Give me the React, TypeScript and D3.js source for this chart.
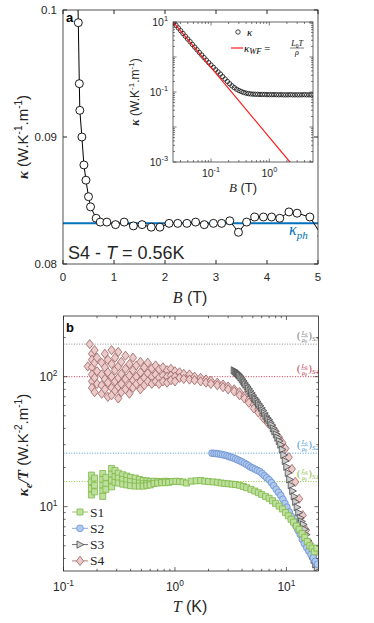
import React, { useEffect, useRef } from "react";
import * as d3 from "d3";

// ---- panel a : kappa(B) of S4 at T = 0.56 K
const fieldB = [0.27, 0.3, 0.32, 0.33, 0.37, 0.41, 0.45, 0.5, 0.54, 0.65, 0.73, 0.86, 1.03, 1.2, 1.38, 1.55, 1.73, 1.9, 2.08, 2.25, 2.43, 2.6, 2.77, 2.95, 3.11, 3.27, 3.44, 3.6, 3.76, 3.93, 4.09, 4.25, 4.43, 4.59, 4.84, 5.08];
const kappaB = [0.105, 0.099, 0.0942, 0.0921, 0.09, 0.0878, 0.0866, 0.0853, 0.0845, 0.0836, 0.0833, 0.0833, 0.0831, 0.0833, 0.083, 0.0831, 0.0829, 0.0829, 0.0832, 0.0832, 0.0832, 0.0833, 0.0831, 0.0832, 0.0832, 0.0834, 0.0825, 0.0833, 0.0837, 0.0837, 0.0837, 0.0836, 0.0841, 0.084, 0.0837, 0.0822];
const kappaPh = 0.0832;
const bTicks = [0, 1, 2, 3, 4, 5];
const kTicks = [0.08, 0.09, 0.1];

// ---- inset : log-log kappa(B) and Wiedemann-Franz
const insetB = [0.0229, 0.0251, 0.0275, 0.0302, 0.0331, 0.0363, 0.0398, 0.0437, 0.0479, 0.0525, 0.0575, 0.0631, 0.0692, 0.0759, 0.0832, 0.0912, 0.1, 0.11, 0.12, 0.132, 0.145, 0.158, 0.174, 0.191, 0.209, 0.229, 0.251, 0.275, 0.302, 0.331, 0.363, 0.398, 0.437, 0.479, 0.525, 0.575, 0.631, 0.692, 0.759, 0.832, 0.912, 1.0, 1.1, 1.2, 1.32, 1.45, 1.58, 1.74, 1.91, 2.09, 2.29, 2.51, 2.75, 3.02, 3.31, 3.63, 3.98, 4.37, 4.79, 5.25];
const insetK = [9.72, 8.1, 6.75, 5.63, 4.69, 3.92, 3.27, 2.74, 2.29, 1.92, 1.61, 1.35, 1.14, 0.962, 0.814, 0.691, 0.589, 0.504, 0.433, 0.374, 0.325, 0.275, 0.235, 0.2, 0.172, 0.15, 0.133, 0.12, 0.11, 0.103, 0.097, 0.093, 0.09, 0.088, 0.087, 0.086, 0.086, 0.085, 0.085, 0.085, 0.084, 0.084, 0.084, 0.084, 0.084, 0.083, 0.084, 0.083, 0.083, 0.083, 0.084, 0.083, 0.083, 0.083, 0.083, 0.083, 0.084, 0.083, 0.083, 0.083];
const wfB = [0.0225, 0.1, 1, 2.6];
const wfK = [10, 0.506, 0.00506, 0.00075];

// ---- panel b : kappa_e / T vs T
const s1: [number, number][] = [[0.178, 17.5], [0.178, 15.5], [0.178, 13.8], [0.178, 12.3], [0.19, 16.6], [0.19, 14.6], [0.19, 13.0], [0.225, 18.0], [0.225, 16.2], [0.225, 14.6], [0.225, 13.2], [0.225, 12.0], [0.24, 16.8], [0.24, 15.0], [0.24, 13.6], [0.27, 19.7], [0.27, 17.8], [0.27, 16.0], [0.27, 14.2], [0.29, 19.0], [0.29, 17.0], [0.29, 15.4], [0.31, 18.1], [0.31, 16.6], [0.31, 15.2], [0.34, 17.6], [0.34, 16.2], [0.34, 14.9], [0.37, 17.2], [0.37, 15.9], [0.37, 14.7], [0.4, 16.8], [0.4, 15.6], [0.4, 14.5], [0.44, 16.6], [0.44, 15.4], [0.44, 14.4], [0.48, 16.2], [0.48, 15.2], [0.48, 14.4], [0.52, 15.9], [0.52, 15.0], [0.52, 14.4], [0.56, 15.8], [0.56, 15.1], [0.56, 14.6], [0.6, 15.6], [0.6, 15.0], [0.6, 14.7], [0.65, 15.7], [0.65, 15.1], [0.7, 15.6], [0.7, 15.2], [0.76, 15.6], [0.76, 15.3], [0.82, 15.7], [0.82, 15.3], [0.88, 15.6], [0.88, 15.4], [0.95, 15.6], [1.02, 15.7], [1.1, 15.6], [1.18, 15.5], [1.27, 15.2], [1.4, 15.7], [1.55, 15.8], [1.7, 15.9], [1.85, 15.7], [2.0, 15.6], [2.2, 15.5], [2.4, 15.4], [2.6, 15.2], [2.8, 15.1], [3.0, 15.0], [3.25, 14.9], [3.5, 14.8], [3.8, 14.6], [4.1, 14.3], [4.4, 14.0], [4.8, 13.6], [5.2, 13.2], [5.6, 12.8], [6.0, 12.4], [6.5, 12.0], [7.0, 11.6], [7.5, 11.1], [8.0, 10.6], [8.6, 10.1], [9.2, 9.6], [9.8, 9.0], [10.4, 8.5], [11.0, 8.0], [11.6, 7.6], [12.3, 7.1], [13.0, 6.7], [13.8, 6.2], [14.6, 5.8], [15.4, 5.4], [16.2, 5.0], [17.0, 4.8], [17.8, 4.5], [18.7, 4.8]];
const s2: [number, number][] = [[2.15, 25.8], [2.25, 25.7], [2.35, 25.6], [2.45, 25.5], [2.56, 25.3], [2.68, 25.1], [2.8, 24.9], [2.93, 24.6], [3.06, 24.3], [3.2, 24.0], [3.35, 23.7], [3.5, 23.3], [3.66, 22.9], [3.83, 22.5], [4.0, 22.1], [4.2, 21.6], [4.4, 21.1], [4.6, 20.6], [4.8, 20.1], [5.0, 19.8], [5.25, 19.4], [5.5, 19.0], [5.78, 18.6], [6.05, 18.0], [6.35, 17.3], [6.65, 16.7], [7.0, 16.1], [7.35, 15.3], [7.7, 14.5], [8.1, 13.6], [8.5, 12.9], [8.9, 12.2], [9.3, 11.4], [9.7, 10.6], [10.1, 9.9], [10.6, 9.1], [11.1, 8.4], [11.6, 7.8], [12.1, 7.2], [12.7, 6.6], [13.3, 6.1], [13.9, 5.6], [14.5, 5.2], [15.2, 4.85], [15.9, 4.55], [16.6, 4.3], [17.4, 4.05], [18.2, 3.8], [19.0, 3.6]];
const s3: [number, number][] = [[3.4, 112], [3.48, 110], [3.56, 108], [3.64, 106], [3.72, 104], [3.8, 102], [3.9, 99], [4.0, 96], [4.1, 93], [4.2, 90], [4.32, 87], [4.45, 84], [4.58, 81], [4.72, 78], [4.86, 75], [5.0, 72], [5.15, 69], [5.3, 67], [5.46, 64.5], [5.62, 62], [5.8, 60], [5.98, 57.5], [6.16, 55], [6.35, 52.5], [6.55, 50], [6.75, 48], [6.96, 46.5], [7.18, 44.5], [7.4, 42.5], [7.63, 40], [7.87, 38], [8.12, 36], [8.37, 34], [8.63, 32], [8.9, 30], [9.18, 27.5], [9.47, 25], [9.76, 22.5], [10.07, 20.3], [10.38, 18.2], [10.7, 16.2], [11.04, 14.6], [11.38, 13.2], [11.74, 12.0], [12.1, 10.9], [12.5, 9.9], [12.9, 9.0], [13.3, 8.2], [13.7, 7.7], [14.2, 7.3], [14.6, 6.7], [15.1, 6.1], [15.6, 5.5], [16.1, 5.0], [16.6, 4.6], [17.1, 4.2], [17.7, 3.9], [18.3, 3.6], [18.9, 3.4]];
const s4: [number, number][] = [[0.165, 120], [0.172, 178], [0.18, 150], [0.18, 135], [0.18, 118], [0.18, 104], [0.18, 92], [0.18, 82], [0.19, 160], [0.19, 128], [0.19, 98], [0.19, 76], [0.2, 140], [0.2, 110], [0.2, 88], [0.22, 128], [0.22, 104], [0.22, 86], [0.22, 74], [0.235, 150], [0.235, 118], [0.235, 96], [0.235, 80], [0.25, 135], [0.25, 108], [0.25, 90], [0.25, 70], [0.27, 160], [0.27, 125], [0.27, 100], [0.27, 82], [0.27, 72], [0.29, 140], [0.29, 112], [0.29, 92], [0.29, 78], [0.31, 155], [0.31, 120], [0.31, 98], [0.31, 84], [0.31, 68], [0.33, 130], [0.33, 105], [0.33, 88], [0.33, 76], [0.36, 145], [0.36, 115], [0.36, 96], [0.36, 80], [0.39, 125], [0.39, 102], [0.39, 86], [0.39, 74], [0.42, 140], [0.42, 112], [0.42, 94], [0.42, 82], [0.45, 122], [0.45, 100], [0.45, 88], [0.49, 130], [0.49, 108], [0.49, 92], [0.49, 80], [0.53, 118], [0.53, 98], [0.53, 86], [0.57, 128], [0.57, 106], [0.57, 92], [0.62, 116], [0.62, 100], [0.62, 88], [0.67, 122], [0.67, 104], [0.67, 92], [0.72, 114], [0.72, 98], [0.72, 88], [0.78, 118], [0.78, 102], [0.78, 92], [0.85, 112], [0.85, 100], [0.85, 90], [0.92, 115], [0.92, 102], [0.92, 94], [1.0, 110], [1.0, 100], [1.0, 92], [1.1, 108], [1.1, 98], [1.2, 105], [1.2, 96], [1.35, 104], [1.35, 95], [1.5, 100], [1.5, 94], [1.7, 98], [1.7, 92], [1.9, 95], [1.9, 90], [2.1, 93], [2.1, 88], [2.4, 90], [2.4, 86], [2.7, 87], [2.7, 83], [3.0, 84], [3.0, 80], [3.4, 80], [3.4, 77], [3.8, 76], [3.8, 72], [4.2, 71], [4.2, 68], [4.6, 66], [4.6, 63], [5.1, 61], [5.1, 57], [5.6, 56], [5.6, 53], [6.2, 51], [6.2, 48], [6.8, 47], [6.8, 44], [7.4, 42], [8.0, 38], [8.6, 34], [9.2, 31], [9.8, 28], [10.5, 24], [11.2, 19.5], [12, 15.5], [13, 11.5], [14, 8.6], [15, 6.6], [16.2, 5.2], [17.5, 4.2], [19, 3.4]];
const seriesNames = ["S1", "S2", "S3", "S4"];
// L0/rho0 reference levels (S1..S4)
const lorenzLevels = [15.6, 25.8, 178, 100];

const W = 374;
const H = 623;
const sans = "'Liberation Sans', Arial, Helvetica, sans-serif";
const serif = "'Liberation Serif', 'DejaVu Serif', 'Times New Roman', serif";
const ink = "#262626";

const shapes: Record<string, string> = {
  square: "M-3,-3H3V3H-3Z",
  circle: d3.symbol(d3.symbolCircle, 36)() as string,
  tri: "M-3,-3.6L3.8,0L-3,3.6Z",
  diamond: "M0,-4.6L3.6,0L0,4.6L-3.6,0Z",
};
const styles = [
  { shape: "square", fill: "#bfe09c", stroke: "#7db748", line: "#8cc63f", label: "#86bb3a" },
  { shape: "circle", fill: "#b0c9ee", stroke: "#6a90d0", line: "#4a9fd8", label: "#3b8fd0" },
  { shape: "tri", fill: "#cfcfcf", stroke: "#484848", line: "#8a8a8a", label: "#777777" },
  { shape: "diamond", fill: "#ebcaca", stroke: "#9c5e5e", line: "#c8324a", label: "#c0304a" },
];

function powLabel(g: any, x: number, y: number, exp: number, anchor: string, size: number) {
  const t = g.append("text").attr("x", x).attr("y", y).attr("text-anchor", anchor)
    .attr("fill", ink).style("font-family", sans).style("font-size", size + "px");
  t.append("tspan").text("10");
  t.append("tspan").attr("dy", -size * 0.45).style("font-size", size * 0.7 + "px").text(String(exp));
  return t;
}

function logTicks(lo: number, hi: number) {
  const out: { v: number; major: boolean }[] = [];
  for (let e = Math.floor(Math.log10(lo)); e <= Math.ceil(Math.log10(hi)); e++) {
    for (let m = 1; m < 10; m++) {
      const v = m * Math.pow(10, e);
      if (v >= lo * 0.999 && v <= hi * 1.001) out.push({ v, major: m === 1 });
    }
  }
  return out;
}

function drawPanelA(svg: any) {
  const L = 63, R = 318, T = 10, B = 264;
  const x = d3.scaleLinear().domain([0, 5]).range([L, R]);
  const y = d3.scaleLinear().domain([0.08, 0.1]).range([B, T]);
  svg.append("clipPath").attr("id", "clipA").append("rect").attr("x", L).attr("y", T).attr("width", R - L).attr("height", B - T);
  const g = svg.append("g");
  const plot = g.append("g").attr("clip-path", "url(#clipA)");

  plot.append("line").attr("x1", L).attr("x2", R).attr("y1", y(kappaPh)).attr("y2", y(kappaPh))
    .attr("stroke", "#0072BD").attr("stroke-width", 2);
  const pts = fieldB.map((b, i) => [b, kappaB[i]] as [number, number]);
  plot.append("path").attr("d", d3.line().x((d) => x(d[0])).y((d) => y(d[1]))(pts))
    .attr("fill", "none").attr("stroke", "#000").attr("stroke-width", 1);
  plot.selectAll("circle.a").data(pts).enter().append("circle")
    .attr("cx", (d: any) => x(d[0])).attr("cy", (d: any) => y(d[1])).attr("r", 4)
    .attr("fill", "#fff").attr("stroke", "#000").attr("stroke-width", 0.9);

  // axes box + ticks
  g.append("rect").attr("x", L).attr("y", T).attr("width", R - L).attr("height", B - T)
    .attr("fill", "none").attr("stroke", ink).attr("stroke-width", 0.8);
  bTicks.forEach((b) => {
    g.append("line").attr("x1", x(b)).attr("x2", x(b)).attr("y1", B).attr("y2", B - 4).attr("stroke", ink);
    g.append("line").attr("x1", x(b)).attr("x2", x(b)).attr("y1", T).attr("y2", T + 4).attr("stroke", ink);
    g.append("text").attr("x", x(b)).attr("y", B + 17).attr("text-anchor", "middle").attr("fill", ink)
      .style("font-family", sans).style("font-size", "11.5px").text(String(b));
  });
  kTicks.forEach((k) => {
    g.append("line").attr("x1", L).attr("x2", L + 4).attr("y1", y(k)).attr("y2", y(k)).attr("stroke", ink);
    g.append("line").attr("x1", R).attr("x2", R - 4).attr("y1", y(k)).attr("y2", y(k)).attr("stroke", ink);
    g.append("text").attr("x", L - 6).attr("y", y(k) + 4).attr("text-anchor", "end").attr("fill", ink)
      .style("font-family", sans).style("font-size", "11.5px").text(String(k));
  });

  g.append("text").attr("x", 66).attr("y", 22).style("font-family", sans).style("font-weight", "bold")
    .style("font-size", "13px").text("a");
  const s = g.append("text").attr("x", 68).attr("y", 259).attr("fill", ink).style("font-family", sans).style("font-size", "18px");
  s.append("tspan").text("S4 - ");
  s.append("tspan").style("font-style", "italic").text("T");
  s.append("tspan").text(" = 0.56K");
  const kp = g.append("text").attr("x", 289).attr("y", 235).attr("fill", "#0072BD")
    .style("font-family", serif).style("font-style", "italic").style("font-size", "16px");
  kp.append("tspan").text("κ");
  kp.append("tspan").attr("dy", 4).style("font-size", "11px").text("ph");

  const xl = g.append("text").attr("x", 190).attr("y", 303).attr("text-anchor", "middle").attr("fill", ink)
    .style("font-family", sans).style("font-size", "16px");
  xl.append("tspan").style("font-family", serif).style("font-style", "italic").text("B");
  xl.append("tspan").text(" (T)");
  const yl = g.append("text").attr("transform", "translate(28,137) rotate(-90)").attr("text-anchor", "middle")
    .attr("fill", ink).style("font-family", sans).style("font-size", "15px");
  yl.append("tspan").style("font-family", serif).style("font-weight", "bold").style("font-style", "italic").text("κ");
  yl.append("tspan").text(" (W.K");
  yl.append("tspan").attr("dy", -6).style("font-size", "10px").text("-1");
  yl.append("tspan").attr("dy", 6).text(".m");
  yl.append("tspan").attr("dy", -6).style("font-size", "10px").text("-1");
  yl.append("tspan").attr("dy", 6).text(")");
}

function drawInset(svg: any) {
  const L = 173, R = 313, T = 22, B = 162;
  const x = d3.scaleLog().domain([0.0223, 5.6]).range([L, R]);
  const y = d3.scaleLog().domain([1e-3, 10]).range([B, T]);
  svg.append("clipPath").attr("id", "clipI").append("rect").attr("x", L).attr("y", T).attr("width", R - L).attr("height", B - T);
  const g = svg.append("g");
  g.append("rect").attr("x", L).attr("y", T).attr("width", R - L).attr("height", B - T).attr("fill", "#fff");
  const plot = g.append("g").attr("clip-path", "url(#clipI)");
  const circ = insetB.map((b, i) => [b, insetK[i]] as [number, number]);
  plot.selectAll("circle.i").data(circ).enter().append("circle")
    .attr("cx", (d: any) => x(d[0])).attr("cy", (d: any) => y(d[1])).attr("r", 2.2)
    .attr("fill", "none").attr("stroke", "#111").attr("stroke-width", 0.8);
  const wf = wfB.map((b, i) => [b, wfK[i]] as [number, number]);
  plot.append("path").attr("d", d3.line().x((d) => x(d[0])).y((d) => y(d[1]))(wf))
    .attr("fill", "none").attr("stroke", "#ff1a1a").attr("stroke-width", 1.2);

  g.append("rect").attr("x", L).attr("y", T).attr("width", R - L).attr("height", B - T)
    .attr("fill", "none").attr("stroke", ink).attr("stroke-width", 0.7);
  logTicks(0.0223, 5.6).forEach((t) => {
    const len = t.major ? 3.5 : 2;
    g.append("line").attr("x1", x(t.v)).attr("x2", x(t.v)).attr("y1", B).attr("y2", B - len).attr("stroke", ink).attr("stroke-width", 0.6);
    g.append("line").attr("x1", x(t.v)).attr("x2", x(t.v)).attr("y1", T).attr("y2", T + len).attr("stroke", ink).attr("stroke-width", 0.6);
  });
  logTicks(1e-3, 10).forEach((t) => {
    const len = t.major ? 3.5 : 2;
    g.append("line").attr("x1", L).attr("x2", L + len).attr("y1", y(t.v)).attr("y2", y(t.v)).attr("stroke", ink).attr("stroke-width", 0.6);
    g.append("line").attr("x1", R).attr("x2", R - len).attr("y1", y(t.v)).attr("y2", y(t.v)).attr("stroke", ink).attr("stroke-width", 0.6);
  });
  [0.1, 1].forEach((v) => powLabel(g, x(v), B + 15, Math.round(Math.log10(v)), "middle", 10.5));
  [1e-3, 0.1, 10].forEach((v) => powLabel(g, L - 5, y(v) + 4, Math.round(Math.log10(v)), "end", 10.5));

  const xl = g.append("text").attr("x", 243).attr("y", 192).attr("text-anchor", "middle").attr("fill", ink)
    .style("font-family", sans).style("font-size", "13px");
  xl.append("tspan").style("font-family", serif).style("font-style", "italic").text("B");
  xl.append("tspan").text(" (T)");
  const yl = g.append("text").attr("transform", "translate(139,92) rotate(-90)").attr("text-anchor", "middle")
    .attr("fill", ink).style("font-family", sans).style("font-size", "12px");
  yl.append("tspan").style("font-family", serif).style("font-weight", "bold").style("font-style", "italic").text("κ");
  yl.append("tspan").text(" (W.K");
  yl.append("tspan").attr("dy", -5).style("font-size", "8px").text("-1");
  yl.append("tspan").attr("dy", 5).text(".m");
  yl.append("tspan").attr("dy", -5).style("font-size", "8px").text("-1");
  yl.append("tspan").attr("dy", 5).text(")");

  // legend
  g.append("circle").attr("cx", 238).attr("cy", 32).attr("r", 2.2).attr("fill", "none").attr("stroke", "#111").attr("stroke-width", 0.8);
  g.append("text").attr("x", 247).attr("y", 35.5).style("font-family", serif).style("font-style", "italic")
    .style("font-size", "11px").text("κ");
  g.append("line").attr("x1", 231).attr("x2", 243).attr("y1", 48).attr("y2", 48).attr("stroke", "#ff1a1a").attr("stroke-width", 1.2);
  const lw = g.append("text").attr("x", 244).attr("y", 51.5).style("font-family", serif).style("font-style", "italic").style("font-size", "11px");
  lw.append("tspan").text("κ");
  lw.append("tspan").attr("dy", 2.5).style("font-size", "8.5px").text("WF");
  lw.append("tspan").attr("dy", -2.5).style("font-style", "normal").text(" = ");
  const num = g.append("text").attr("x", 297).attr("y", 46).attr("text-anchor", "middle").style("font-family", serif)
    .style("font-style", "italic").style("font-size", "8px");
  num.append("tspan").text("L");
  num.append("tspan").attr("dy", 1.5).style("font-size", "5.5px").style("font-style", "normal").text("0");
  num.append("tspan").attr("dy", -1.5).text("T");
  g.append("line").attr("x1", 290).attr("x2", 304).attr("y1", 48).attr("y2", 48).attr("stroke", "#000").attr("stroke-width", 0.5);
  g.append("text").attr("x", 297).attr("y", 55).attr("text-anchor", "middle").style("font-family", serif)
    .style("font-style", "italic").style("font-size", "8px").text("ρ");
}

function ratioLabel(g: any, x: number, y: number, sub: string, color: string) {
  const t = g.append("g").attr("transform", `translate(${x},${y})`).attr("fill", color)
    .style("font-family", serif).style("font-style", "italic");
  t.append("text").attr("x", 0).attr("y", 3).style("font-size", "10px").style("font-style", "normal").text("(");
  const n = t.append("text").attr("x", 7.5).attr("y", -1).attr("text-anchor", "middle").style("font-size", "6px");
  n.append("tspan").text("L");
  n.append("tspan").attr("dy", 1).style("font-size", "4.5px").text("0");
  t.append("line").attr("x1", 4).attr("x2", 11).attr("y1", 0.5).attr("y2", 0.5).attr("stroke", color).attr("stroke-width", 0.5);
  const d = t.append("text").attr("x", 7.5).attr("y", 6).attr("text-anchor", "middle").style("font-size", "6px");
  d.append("tspan").text("ρ");
  d.append("tspan").attr("dy", 1).style("font-size", "4.5px").text("0");
  t.append("text").attr("x", 11.5).attr("y", 3).style("font-size", "10px").style("font-style", "normal").text(")");
  t.append("text").attr("x", 15).attr("y", 5).style("font-size", "7px").text(sub);
}

function drawPanelB(svg: any) {
  const L = 63.5, R = 318.5, T = 316, B = 571;
  const x = d3.scaleLog().domain([0.1, 19.4]).range([L, R]);
  const y = d3.scaleLog().domain([3.2, 293]).range([B, T]);
  svg.append("clipPath").attr("id", "clipB").append("rect").attr("x", L).attr("y", T).attr("width", R - L).attr("height", B - T);
  const g = svg.append("g");
  const plot = g.append("g").attr("clip-path", "url(#clipB)");

  lorenzLevels.forEach((v, i) => {
    plot.append("line").attr("x1", L).attr("x2", R).attr("y1", y(v)).attr("y2", y(v))
      .attr("stroke", styles[i].line).attr("stroke-width", 1).attr("stroke-dasharray", "1,1.6");
  });

  const data = [s1, s2, s3, s4];
  // S4 drawn first, S1 last
  [3, 2, 1, 0].forEach((i) => {
    const st = styles[i];
    plot.append("g").selectAll("path").data(data[i]).enter().append("path")
      .attr("d", shapes[st.shape])
      .attr("transform", (d: any) => `translate(${x(d[0])},${y(d[1])})`)
      .attr("fill", st.fill).attr("stroke", st.stroke).attr("stroke-width", 0.8);
  });

  lorenzLevels.forEach((v, i) => ratioLabel(plot, 297, y(v) - 8, "S" + (i + 1), styles[i].label));

  g.append("rect").attr("x", L).attr("y", T).attr("width", R - L).attr("height", B - T)
    .attr("fill", "none").attr("stroke", ink).attr("stroke-width", 0.8);
  logTicks(0.1, 19.4).forEach((t) => {
    const len = t.major ? 4 : 2.2;
    g.append("line").attr("x1", x(t.v)).attr("x2", x(t.v)).attr("y1", B).attr("y2", B - len).attr("stroke", ink).attr("stroke-width", 0.7);
    g.append("line").attr("x1", x(t.v)).attr("x2", x(t.v)).attr("y1", T).attr("y2", T + len).attr("stroke", ink).attr("stroke-width", 0.7);
  });
  logTicks(3.2, 293).forEach((t) => {
    const len = t.major ? 4 : 2.2;
    g.append("line").attr("x1", L).attr("x2", L + len).attr("y1", y(t.v)).attr("y2", y(t.v)).attr("stroke", ink).attr("stroke-width", 0.7);
    g.append("line").attr("x1", R).attr("x2", R - len).attr("y1", y(t.v)).attr("y2", y(t.v)).attr("stroke", ink).attr("stroke-width", 0.7);
  });
  [0.1, 1, 10].forEach((v) => powLabel(g, x(v), B + 20, Math.round(Math.log10(v)), "middle", 12));
  [10, 100].forEach((v) => powLabel(g, L - 6, y(v) + 4.5, Math.round(Math.log10(v)), "end", 12));

  g.append("text").attr("x", 66).attr("y", 332).style("font-family", sans).style("font-weight", "bold")
    .style("font-size", "13px").text("b");

  // legend
  seriesNames.forEach((name, i) => {
    const st = styles[i];
    const cy = 512 + i * 16.3;
    g.append("line").attr("x1", 72).attr("x2", 88).attr("y1", cy).attr("y2", cy).attr("stroke", st.stroke).attr("stroke-width", 0.8);
    g.append("path").attr("d", shapes[st.shape]).attr("transform", `translate(80,${cy})`)
      .attr("fill", st.fill).attr("stroke", st.stroke).attr("stroke-width", 0.8);
    g.append("text").attr("x", 90).attr("y", cy + 4.5).attr("fill", ink).style("font-family", serif)
      .style("font-size", "13.5px").text(name);
  });

  const xl = g.append("text").attr("x", 190).attr("y", 612).attr("text-anchor", "middle").attr("fill", ink)
    .style("font-family", sans).style("font-size", "16px");
  xl.append("tspan").style("font-family", serif).style("font-style", "italic").text("T");
  xl.append("tspan").text(" (K)");
  const yl = g.append("text").attr("transform", "translate(28,445) rotate(-90)").attr("text-anchor", "middle")
    .attr("fill", ink).style("font-family", sans).style("font-size", "15px");
  const k = yl.append("tspan").style("font-family", serif).style("font-weight", "bold").style("font-style", "italic");
  k.append("tspan").text("κ");
  k.append("tspan").attr("dy", 4).style("font-size", "11px").text("e");
  k.append("tspan").attr("dy", -4).text("/T");
  yl.append("tspan").text(" (W.K");
  yl.append("tspan").attr("dy", -6).style("font-size", "10px").text("-2");
  yl.append("tspan").attr("dy", 6).text(".m");
  yl.append("tspan").attr("dy", -6).style("font-size", "10px").text("-1");
  yl.append("tspan").attr("dy", 6).text(")");
}

export default function App() {
  const ref = useRef<SVGSVGElement>(null);
  useEffect(() => {
    const svg = d3.select(ref.current);
    svg.selectAll("*").remove();
    drawPanelA(svg);
    drawInset(svg);
    drawPanelB(svg);
  }, []);
  return (
    <svg
      ref={ref}
      width={W}
      height={H}
      style={{ position: "absolute", left: 0, top: 0, background: "#fff", display: "block" }}
    />
  );
}
